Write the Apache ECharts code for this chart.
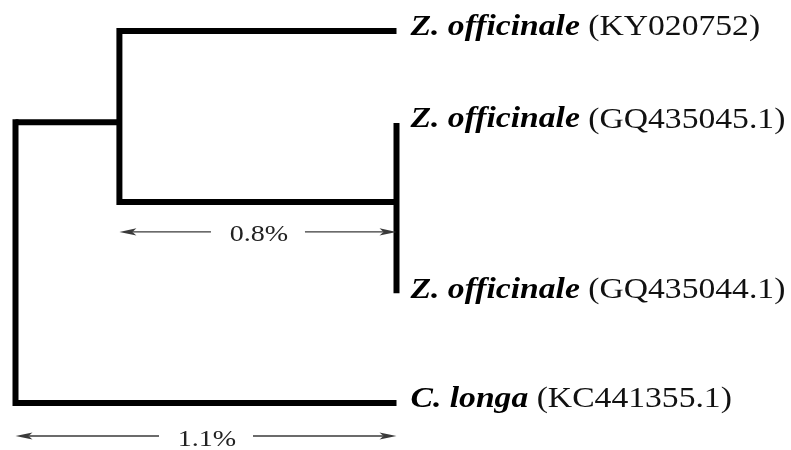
<!DOCTYPE html>
<html>
<head>
<meta charset="utf-8">
<script src="https://cdn.jsdelivr.net/npm/echarts@6/dist/echarts.min.js"></script>
<style>
  html, body { margin: 0; padding: 0; background: #fff; }
  #chart { width: 791px; height: 450px; }
</style>
</head>
<body>
<div id="chart"></div>
<script>
// Leaves of the tree (taxon, accession, parent node, row, cumulative divergence in %)
const species    = ['Z. officinale', 'Z. officinale', 'Z. officinale', 'C. longa'];
const accessions = ['KY020752', 'GQ435045.1', 'GQ435044.1', 'KC441355.1'];
const leafParent = ['A', 'B', 'B', 'root'];
const leafRow    = [0, 0.99, 2.82, 4.0];
const leafDepth  = [1.1, 1.1, 1.1, 1.1];

// Internal nodes (root has no stem, so no row)
const nodeIds    = ['root', 'A', 'B'];
const nodeParent = [null, 'root', 'A'];
const nodeDepth  = [0, 0.3, 1.1];
const nodeRow    = [null, 0.98, 1.84];

// Divergence scale arrows: start, span (%) and row
const scaleFrom = [0.3, 0];
const scaleSpan = [0.8, 1.1];
const scaleRow  = [2.16, 4.355];

const SERIF = '"Liberation Serif", "Times New Roman", Times, serif';
const BRANCH_W = 6;

// ---- build branch segments from the tree ----
const depthOf = {}, rowOf = {};
nodeIds.forEach((id, i) => { depthOf[id] = nodeDepth[i]; rowOf[id] = nodeRow[i]; });

// children of each internal node: {row, stemLength}
const kids = {};
nodeIds.forEach(id => { kids[id] = []; });
nodeIds.forEach((id, i) => {
  if (nodeParent[i]) kids[nodeParent[i]].push({ row: nodeRow[i], len: nodeDepth[i] - depthOf[nodeParent[i]] });
});
accessions.forEach((acc, i) => {
  kids[leafParent[i]].push({ row: leafRow[i], len: leafDepth[i] - depthOf[leafParent[i]] });
});

// segment: [x1, y1, x2, y2, extendStart, extendEnd]
const segments = [];
// horizontal stems
nodeIds.forEach((id, i) => {
  if (nodeParent[i]) segments.push([depthOf[nodeParent[i]], nodeRow[i], nodeDepth[i], nodeRow[i], 0, 0]);
});
accessions.forEach((acc, i) => {
  const p = leafParent[i];
  if (leafDepth[i] > depthOf[p]) segments.push([depthOf[p], leafRow[i], leafDepth[i], leafRow[i], 0, 0]);
});
// vertical connectors
nodeIds.forEach(id => {
  const ks = kids[id].slice().sort((a, b) => a.row - b.row);
  const top = ks[0], bot = ks[ks.length - 1];
  segments.push([depthOf[id], top.row, depthOf[id], bot.row, top.len > 0 ? 1 : 0, bot.len > 0 ? 1 : 0]);
});

const leafData = accessions.map((acc, i) => [leafDepth[i], leafRow[i], i]);
const scaleData = scaleFrom.map((f, i) => [f, scaleRow[i], scaleSpan[i]]);

const chart = echarts.init(document.getElementById('chart'), null, { renderer: 'canvas' });

chart.setOption({
  backgroundColor: '#ffffff',
  animation: false,
  grid: { left: 15.5, right: 394.5, top: 31, bottom: 0.5 },
  xAxis: { type: 'value', min: 0, max: 1.1, show: false },
  yAxis: { type: 'value', min: 0, max: 4.5, inverse: true, show: false },
  series: [
    {
      // tree branches
      type: 'custom',
      coordinateSystem: 'cartesian2d',
      silent: true,
      data: segments,
      renderItem: function (params, api) {
        const a = api.coord([api.value(0), api.value(1)]);
        const b = api.coord([api.value(2), api.value(3)]);
        const h = BRANCH_W / 2;
        let y1 = a[1], y2 = b[1];
        if (a[0] === b[0]) {
          if (api.value(4)) y1 -= h;
          if (api.value(5)) y2 += h;
        }
        return {
          type: 'line',
          shape: { x1: a[0], y1: y1, x2: b[0], y2: y2 },
          style: { stroke: '#000', lineWidth: BRANCH_W, lineCap: 'butt' }
        };
      }
    },
    {
      // leaf labels
      type: 'custom',
      coordinateSystem: 'cartesian2d',
      silent: true,
      data: leafData,
      renderItem: function (params, api) {
        const p = api.coord([api.value(0), api.value(1)]);
        const i = api.value(2);
        return {
          type: 'text',
          x: p[0] + 14,
          y: p[1] - 3,
          scaleX: 1.18,
          style: {
            text: '{sp|' + species[i] + '} {ac|(' + accessions[i] + ')}',
            fontFamily: SERIF,
            fontSize: 28.5,
            fill: '#000',
            align: 'left',
            verticalAlign: 'middle',
            rich: {
              sp: { fontFamily: SERIF, fontSize: 28.5, fontStyle: 'italic', fontWeight: 'bold', fill: '#000' },
              ac: { fontFamily: SERIF, fontSize: 28.5, fill: '#111' }
            }
          }
        };
      }
    },
    {
      // divergence scale arrows
      type: 'custom',
      coordinateSystem: 'cartesian2d',
      silent: true,
      data: scaleData,
      renderItem: function (params, api) {
        const from = api.value(0), row = api.value(1), span = api.value(2);
        const a = api.coord([from, row]);
        const b = api.coord([from + span, row]);
        const y = a[1];
        const mid = (a[0] + b[0]) / 2;
        const gap = 47, headL = 17, notch = 13, headW = 3.6;
        const col = '#3a3a3a';
        return {
          type: 'group',
          children: [
            { type: 'line', shape: { x1: a[0] + notch, y1: y, x2: mid - gap, y2: y },
              style: { stroke: col, lineWidth: 1.4 } },
            { type: 'line', shape: { x1: mid + gap, y1: y, x2: b[0] - notch, y2: y },
              style: { stroke: col, lineWidth: 1.4 } },
            { type: 'polygon', shape: { points: [[a[0], y], [a[0] + headL, y - headW], [a[0] + notch, y], [a[0] + headL, y + headW]] },
              style: { fill: col } },
            { type: 'polygon', shape: { points: [[b[0], y], [b[0] - headL, y - headW], [b[0] - notch, y], [b[0] - headL, y + headW]] },
              style: { fill: col } },
            { type: 'text', x: mid + 1, y: y + 3.5, scaleX: 1.22,
              style: { text: span + '%', fontFamily: SERIF, fontSize: 23, fill: '#222',
                       align: 'center', verticalAlign: 'middle' } }
          ]
        };
      }
    }
  ]
});
</script>
</body>
</html>
